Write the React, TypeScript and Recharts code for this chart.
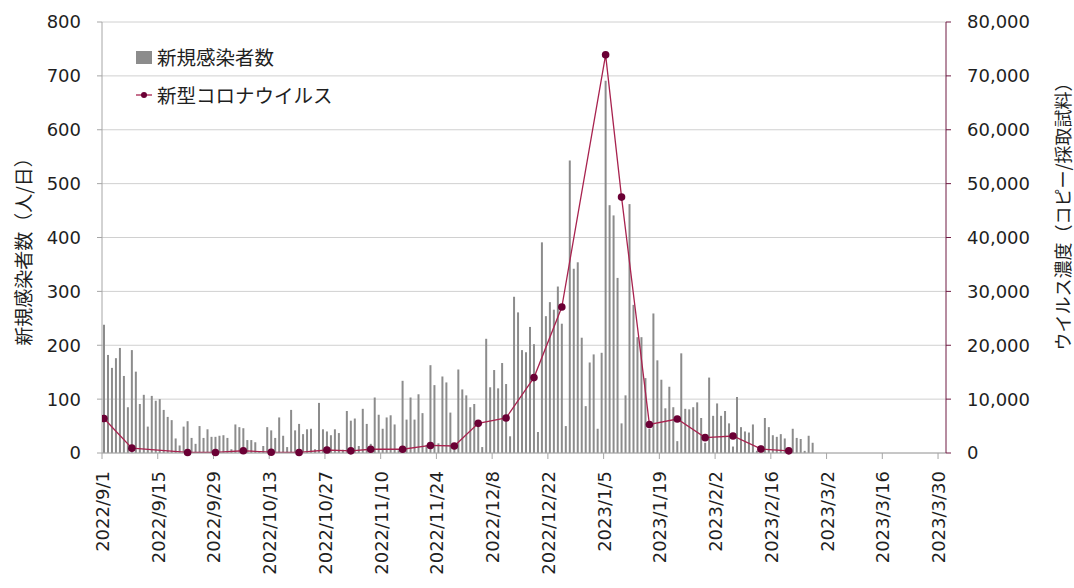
import React from "react"
import { ComposedChart, Bar, Line, XAxis, YAxis, CartesianGrid } from "recharts"

// daily new cases, starting at caseStartDate
const caseStartDate = "2022/9/1"
const newCases = [
  238, 182, 158, 176, 195, 143, 85, 191, 151, 91, 108, 49, 106, 97, 100, 80, 67, 61, 27, 14,
  49, 59, 28, 17, 50, 28, 44, 30, 30, 32, 33, 28, 7, 53, 48, 46, 24, 24, 20, 2,
  13, 48, 42, 28, 66, 32, 11, 80, 42, 54, 35, 44, 45, 7, 93, 44, 40, 33, 44, 37,
  6, 78, 60, 64, 13, 82, 54, 17, 103, 71, 45, 66, 70, 53, 5, 134, 62, 103, 62, 109,
  74, 15, 163, 126, 18, 142, 131, 75, 10, 155, 118, 107, 85, 91, 55, 11, 212, 122, 154, 120,
  167, 128, 31, 290, 261, 191, 187, 234, 202, 39, 391, 254, 280, 266, 309, 240, 50, 543, 342, 354,
  214, 87, 168, 183, 45, 186, 691, 460, 441, 325, 55, 107, 462, 275, 215, 215, 139, 45, 259, 172,
  136, 83, 123, 85, 22, 185, 82, 81, 85, 94, 65, 19, 140, 69, 92, 69, 78, 55, 12, 104,
  48, 40, 38, 53, 4, 14, 65, 48, 33, 30, 35, 27, 10, 45, 28, 26, 4, 32, 19,
]

// wastewater virus concentration samples
const virusDates = [
  "2022/9/1", "2022/9/8", "2022/9/22", "2022/9/29", "2022/10/6", "2022/10/13", "2022/10/20",
  "2022/10/27", "2022/11/2", "2022/11/7", "2022/11/15", "2022/11/22", "2022/11/28", "2022/12/4",
  "2022/12/11", "2022/12/18", "2022/12/25", "2023/1/5", "2023/1/9", "2023/1/16", "2023/1/23",
  "2023/1/30", "2023/2/6", "2023/2/13", "2023/2/20",
]
const virusCopies = [
  6400, 900, 100, 100, 420, 150, 100, 560, 400, 700, 700, 1400, 1300, 5500,
  6500, 14000, 27100, 73900, 47500, 5300, 6300, 2850, 3150, 750, 400,
]

const xTickLabels = [
  "2022/9/1", "2022/9/15", "2022/9/29", "2022/10/13", "2022/10/27", "2022/11/10", "2022/11/24",
  "2022/12/8", "2022/12/22", "2023/1/5", "2023/1/19", "2023/2/2", "2023/2/16", "2023/3/2",
  "2023/3/16", "2023/3/30",
]
const leftTicks = [0, 100, 200, 300, 400, 500, 600, 700, 800]
const rightTicks = [0, 10000, 20000, 30000, 40000, 50000, 60000, 70000, 80000]

const FONT = "'DejaVu Sans', 'Noto Sans CJK JP', sans-serif"
const JP_FONT = "'Noto Sans CJK JP', sans-serif"
const TEXT = "#1f1f1f"
const AXIS_GRAY = "#a6a6a6"
const MAROON = "#6e1a42"
const LINE_RED = "#a8234f"
const DOT = "#6b0035"
const BAR_GRAY = "#8c8c8c"

function dayIndex(date: string) {
  const [y, m, d] = date.split("/").map(Number)
  const [y0, m0, d0] = caseStartDate.split("/").map(Number)
  return Math.round((Date.UTC(y, m - 1, d) - Date.UTC(y0, m0 - 1, d0)) / 86400000)
}

const xTicks = xTickLabels.map(dayIndex)
const lastDay = xTicks[xTicks.length - 1]

const rows: { x: number; cases: number | null; virus: number | null }[] = []
for (let i = 0; i <= lastDay; i++) {
  rows.push({ x: i + 0.5, cases: i < newCases.length ? newCases[i] : null, virus: null })
}
virusDates.forEach((d, k) => {
  rows[dayIndex(d)].virus = virusCopies[k]
})

function DateTick({ x, y, payload }: any) {
  const label = xTickLabels[xTicks.indexOf(payload.value)]
  return (
    <text
      x={0}
      y={0}
      transform={`translate(${x + 7},${y + 10}) rotate(-90)`}
      textAnchor="end"
      fontSize={18}
      fill={TEXT}
      fontFamily={FONT}
    >
      {label}
    </text>
  )
}

function ChartLegend() {
  return (
    <div
      style={{
        position: "absolute",
        left: 136,
        top: 38,
        fontFamily: JP_FONT,
        fontSize: 19.5,
        color: TEXT,
        lineHeight: "38px",
        whiteSpace: "nowrap",
      }}
    >
      <div style={{ display: "flex", alignItems: "center" }}>
        <span style={{ display: "inline-block", width: 16, height: 13, background: BAR_GRAY, marginRight: 5 }} />
        新規感染者数
      </div>
      <div style={{ display: "flex", alignItems: "center" }}>
        <svg width={16} height={10} style={{ marginRight: 5 }}>
          <line x1={0} y1={5} x2={16} y2={5} stroke={LINE_RED} strokeWidth={1.3} />
          <circle cx={8} cy={5} r={3} fill={DOT} />
        </svg>
        新型コロナウイルス
      </div>
    </div>
  )
}

export default function App() {
  return (
    <div style={{ position: "absolute", left: 0, top: 0, width: 1074, height: 588, background: "#fff" }}>
      <ComposedChart
        width={1074}
        height={588}
        data={rows}
        margin={{ top: 22, right: 0, bottom: 0, left: 0 }}
      >
        <CartesianGrid yAxisId="left" vertical={false} stroke="#d0d0d0" />
        <XAxis
          dataKey="x"
          type="number"
          domain={[0, lastDay + 2]}
          ticks={xTicks}
          allowDataOverflow
          height={135}
          tick={<DateTick />}
          tickSize={6}
          tickMargin={2}
          interval={0}
          stroke={AXIS_GRAY}
        />
        <YAxis
          yAxisId="left"
          orientation="left"
          domain={[0, 800]}
          ticks={leftTicks}
          width={102}
          tickSize={5}
          tickMargin={16}
          stroke={AXIS_GRAY}
          tick={{ fontSize: 18, fill: TEXT, fontFamily: FONT }}
        />
        <YAxis
          yAxisId="right"
          orientation="right"
          domain={[0, 80000]}
          ticks={rightTicks}
          width={128}
          tickSize={5}
          tickMargin={16}
          stroke={MAROON}
          tickFormatter={(v: number) => v.toLocaleString("en-US")}
          tick={{ fontSize: 18, fill: TEXT, fontFamily: FONT, textAnchor: "start" }}
        />
        <Bar yAxisId="left" dataKey="cases" fill={BAR_GRAY} barSize={2} isAnimationActive={false} />
        <Line
          yAxisId="right"
          dataKey="virus"
          stroke={LINE_RED}
          strokeWidth={1.3}
          connectNulls
          dot={{ r: 3.8, fill: DOT, stroke: DOT, strokeWidth: 0 }}
          activeDot={false}
          isAnimationActive={false}
        />
      </ComposedChart>
      <ChartLegend />
      <div
        style={{
          position: "absolute",
          left: 22,
          top: 247,
          transform: "translate(-50%, -50%) rotate(-90deg)",
          whiteSpace: "nowrap",
          fontFamily: JP_FONT,
          fontSize: 19,
          color: TEXT,
        }}
      >
        新規感染者数（人/日）
      </div>
      <div
        style={{
          position: "absolute",
          left: 1062,
          top: 212,
          transform: "translate(-50%, -50%) rotate(-90deg)",
          whiteSpace: "nowrap",
          fontFamily: JP_FONT,
          fontSize: 18,
          color: TEXT,
        }}
      >
        ウイルス濃度（コピー/採取試料）
      </div>
    </div>
  )
}
